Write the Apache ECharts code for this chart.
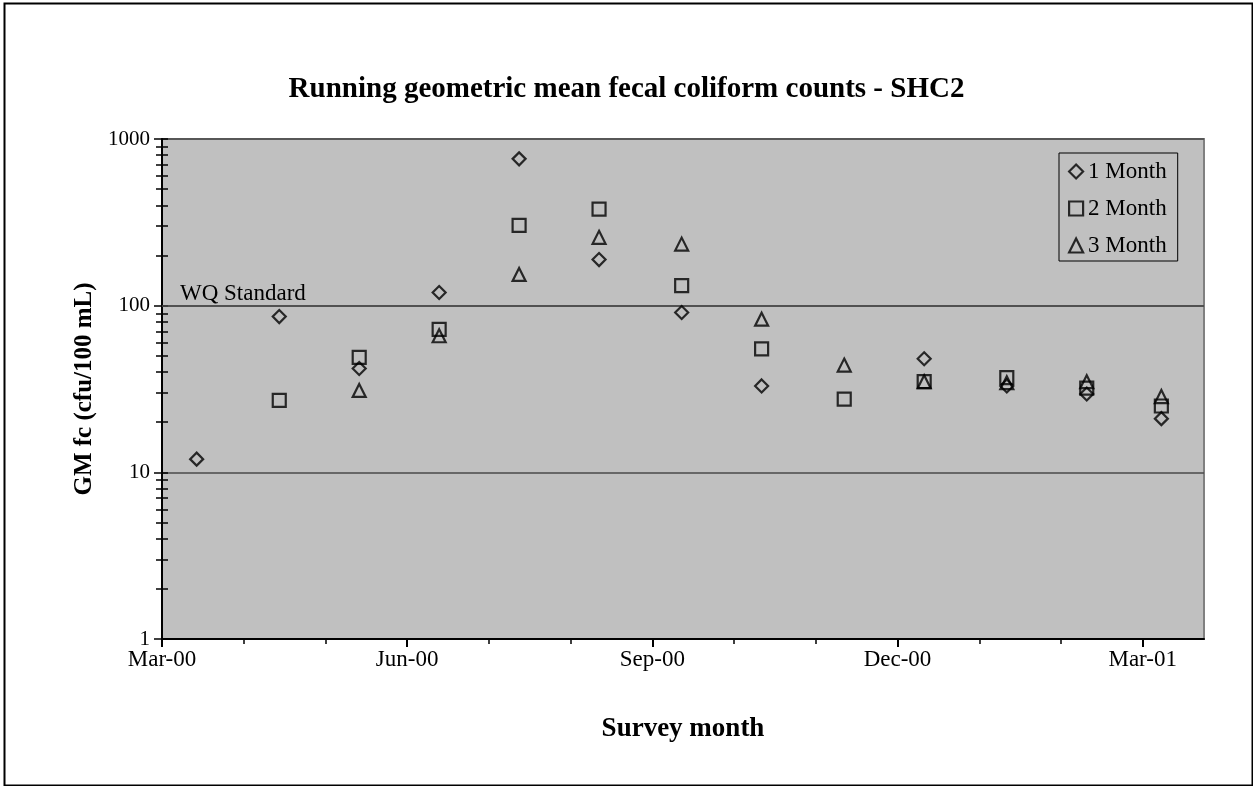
<!DOCTYPE html>
<html>
<head>
<meta charset="utf-8">
<script src="https://cdn.jsdelivr.net/npm/echarts@6/dist/echarts.min.js"></script>
<style>
html,body{margin:0;padding:0;background:#fff;}
#chart{width:1253px;height:786px;}
</style>
</head>
<body>
<div id="chart"></div>
<script>
// ---- data ----
const sampleDates = ['2000-03-14','2000-04-14','2000-05-14','2000-06-13','2000-07-13','2000-08-12','2000-09-12','2000-10-12','2000-11-12','2000-12-12','2001-01-12','2001-02-11','2001-03-11'];
const gm1Month = [12, 86, 42, 120, 760, 189, 91, 33, null, 48, 33, 29.5, 21];
const gm2Month = [null, 27, 49, 72, 303, 380, 132, 55, 27.5, 35, 37, 32, 25];
const gm3Month = [null, null, 31, 66, 154, 257, 234, 83, 44, 35, 34.5, 35, 28.5];
const seriesNames = ['1 Month', '2 Month', '3 Month'];
const wqStandard = 100;
const wqLabel = 'WQ Standard';
const titleText = 'Running geometric mean fecal coliform counts - SHC2';
const xAxisName = 'Survey month';
const yAxisName = 'GM fc (cfu/100 mL)';
const monthAbbr = ['Jan','Feb','Mar','Apr','May','Jun','Jul','Aug','Sep','Oct','Nov','Dec'];

// ---- axis definition ----
const DAY = 86400000;
const xMin = Date.UTC(2000, 2, 1);
const xMajorDays = 92;
const xMinorPerMajor = 3;
const xSpanDays = 391;
const xMax = xMin + xSpanDays * DAY;

function parseDate(s) { const p = s.split('-').map(Number); return Date.UTC(p[0], p[1] - 1, p[2]); }
function fmtDate(v) { const d = new Date(v); return monthAbbr[d.getUTCMonth()] + '-' + String(d.getUTCFullYear() % 100).padStart(2, '0'); }
function pairs(vals) { return sampleDates.map((d, i) => [parseDate(d), vals[i]]).filter(p => p[1] != null); }

const majorTicks = [], minorTicks = [];
for (let k = 0; k * xMajorDays / xMinorPerMajor <= xSpanDays; k++) {
  const v = xMin + k * xMajorDays / xMinorPerMajor * DAY;
  if (k % xMinorPerMajor === 0) majorTicks.push(v); else minorTicks.push(v);
}

const FONT = 'Liberation Serif';
const chart = echarts.init(document.getElementById('chart'), null, {renderer: 'canvas'});

const markerStyle = {color: 'transparent', borderColor: '#000', borderWidth: 2.2};
function mkSeries(name, vals, symbol, extra) {
  return Object.assign({
    name: name, type: 'scatter', data: pairs(vals), symbol: symbol, symbolSize: 13,
    itemStyle: markerStyle, xAxisIndex: 0, yAxisIndex: 0, z: 5
  }, extra || {});
}

const grid = {left: 162, top: 139, right: 49, bottom: 147};

chart.setOption({
  backgroundColor: '#fff',
  animation: false,
  title: {
    text: titleText, left: 'center', top: 70,
    textStyle: {fontFamily: FONT, fontWeight: 'bold', fontSize: 29, color: '#000'}
  },
  grid: Object.assign({show: true, backgroundColor: '#c0c0c0', borderColor: '#808080', borderWidth: 2}, grid),
  legend: {
    orient: 'vertical', left: 1059, top: 153,
    backgroundColor: 'transparent', borderColor: '#000', borderWidth: 1,
    padding: [7, 11, 4, 9], itemGap: 14, itemWidth: 14, itemHeight: 14,
    textStyle: {fontFamily: FONT, fontSize: 23, color: '#000'},
    data: [
      {name: seriesNames[0], icon: 'diamond', itemStyle: markerStyle},
      {name: seriesNames[1], icon: 'rect', itemStyle: markerStyle},
      {name: seriesNames[2], icon: 'triangle', itemStyle: markerStyle}
    ]
  },
  xAxis: [{
    type: 'value', min: xMin, max: xMax, position: 'bottom',
    name: xAxisName, nameLocation: 'middle', nameGap: 77,
    nameTextStyle: {fontFamily: FONT, fontWeight: 'bold', fontSize: 27, color: '#000'},
    axisLine: {show: true, lineStyle: {color: '#000', width: 2}},
    axisTick: {show: true, length: 8, customValues: majorTicks, lineStyle: {color: '#000', width: 2}},
    axisLabel: {customValues: majorTicks, formatter: fmtDate, margin: 9, fontFamily: FONT, fontSize: 23, color: '#000'},
    splitLine: {show: false}
  }, {
    type: 'value', min: xMin, max: xMax, position: 'bottom',
    axisLine: {show: false},
    axisTick: {show: true, length: 5, customValues: minorTicks, lineStyle: {color: '#000', width: 1.5}},
    axisLabel: {show: false}, splitLine: {show: false}
  }],
  yAxis: [{
    type: 'log', logBase: 10, min: 1, max: 1000, position: 'left',
    name: yAxisName, nameLocation: 'middle', nameGap: 57, nameRotate: 90,
    nameTextStyle: {fontFamily: FONT, fontWeight: 'bold', fontSize: 25, color: '#000'},
    axisLine: {show: true, lineStyle: {color: '#000', width: 2}},
    axisTick: {show: true, length: 8, lineStyle: {color: '#000', width: 1.5}},
    minorTick: {show: true, splitNumber: 9, length: 6, lineStyle: {color: '#000', width: 1.5}},
    axisLabel: {margin: 12, fontFamily: FONT, fontSize: 21, color: '#000', formatter: v => String(v)},
    splitLine: {show: true, lineStyle: {color: '#4a4a4a', width: 1.5}}
  }, {
    type: 'log', logBase: 10, min: 1, max: 1000, position: 'left',
    axisLine: {show: false},
    axisTick: {show: true, inside: true, length: 6, lineStyle: {color: '#000', width: 1.5}},
    minorTick: {show: true, splitNumber: 9, length: 6, lineStyle: {color: '#000', width: 1.5}},
    axisLabel: {show: false}, splitLine: {show: false}
  }],
  series: [
    mkSeries(seriesNames[0], gm1Month, 'diamond', {
      markLine: {
        silent: true, symbol: 'none',
        lineStyle: {color: '#4a4a4a', width: 1.5, type: 'solid'},
        label: {show: true, position: 'insideStartTop', formatter: wqLabel, fontFamily: FONT, fontSize: 23, color: '#000', distance: [18, 0]},
        data: [{yAxis: wqStandard}]
      }
    }),
    mkSeries(seriesNames[1], gm2Month, 'rect'),
    mkSeries(seriesNames[2], gm3Month, 'triangle')
  ],
  graphic: [{
    type: 'rect', left: 2, top: 1, silent: true, z: 100,
    shape: {width: 1248, height: 782},
    style: {fill: 'none', stroke: '#000', lineWidth: 2}
  }]
});
</script>
</body>
</html>
